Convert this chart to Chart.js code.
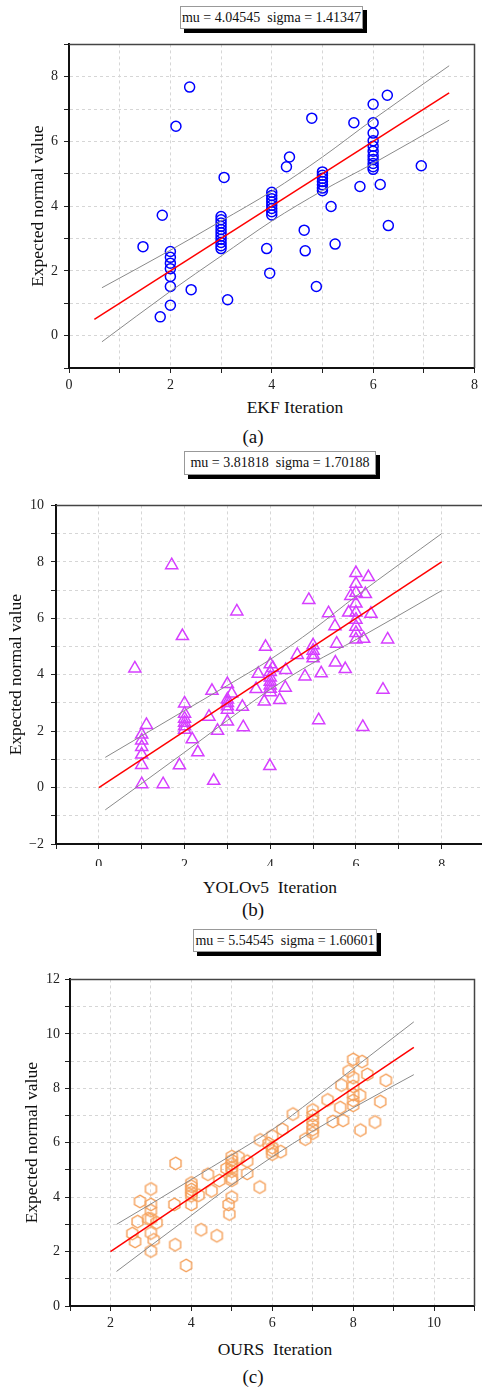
<!DOCTYPE html>
<html>
<head>
<meta charset="utf-8">
<script src="https://cdn.jsdelivr.net/npm/chart.js@4.4.1/dist/chart.umd.min.js"></script>
<style>
  body { margin: 0; width: 482px; height: 1388px; overflow: hidden; background: #fff; position: relative; font-family: "Liberation Serif", serif; color: #111; }
  canvas, .box, .lbl { position: absolute; }
  .box { border: 1px solid #999; background: #fff; box-shadow: 4px 4px 0 #000; font-size: 14px; white-space: pre; text-align: center; box-sizing: border-box; }
  .lbl { transform: translateX(-50%); white-space: pre; line-height: 20px; }
</style>
</head>
<body>
<div class="box" style="left:180px;top:6px;width:183px;height:23px;line-height:21px">mu = 4.04545  sigma = 1.41347</div>
<canvas id="ekf" width="482" height="360" style="left:0;top:30px"></canvas>
<div class="lbl" style="left:295px;top:397px;font-size:17.5px">EKF Iteration</div>
<div class="lbl" style="left:253px;top:427px;font-size:19px">(a)</div>

<div class="box" style="left:184px;top:451px;width:192px;height:24px;line-height:22px">mu = 3.81818  sigma = 1.70188</div>
<canvas id="yolo" width="500" height="376" style="left:0;top:490px"></canvas>
<div class="lbl" style="left:270px;top:877px;font-size:17.5px">YOLOv5  Iteration</div>
<div class="lbl" style="left:253px;top:900px;font-size:19px">(b)</div>

<div class="box" style="left:193px;top:929px;width:184px;height:23px;line-height:21px">mu = 5.54545  sigma = 1.60601</div>
<canvas id="ours" width="482" height="362" style="left:0;top:966px"></canvas>
<div class="lbl" style="left:275px;top:1339px;font-size:17.5px">OURS  Iteration</div>
<div class="lbl" style="left:253px;top:1367px;font-size:19px">(c)</div>

<script>
// (a) EKF
const ekfX = [1.46, 1.84, 1.80, 2, 2, 2, 2, 2, 2, 2, 2.41, 2.11, 2.38,
  3, 3, 3, 3, 3, 3, 3, 3, 3, 3, 3, 3.06, 3.13, 4, 4, 4, 4, 4, 4, 4, 4, 3.90, 3.96,
  5, 5, 5, 5, 5, 5, 5, 4.35, 4.29, 4.79, 4.64, 4.66, 4.88, 5.17, 5.25, 5.62, 5.74,
  6, 6, 6, 6, 6, 6, 6, 6, 6, 6, 6, 6.14, 6.28, 6.30, 6.95];
const ekfY = [2.75, 3.72, 0.58, 2.60, 2.42, 2.24, 2.07, 1.83, 1.52, 0.94, 1.42, 6.47, 7.68,
  3.68, 3.58, 3.48, 3.38, 3.28, 3.18, 3.08, 2.98, 2.88, 2.78, 2.69, 4.89, 1.11,
  4.43, 4.33, 4.23, 4.13, 4.03, 3.93, 3.83, 3.73, 2.69, 1.93,
  5.06, 4.96, 4.86, 4.76, 4.66, 4.56, 4.48, 5.52, 5.22, 6.72, 3.26, 2.62, 1.52, 3.99, 2.83, 6.58, 4.61,
  7.15, 6.58, 6.26, 6.02, 5.85, 5.70, 5.56, 5.44, 5.32, 5.22, 5.14, 4.67, 7.43, 3.40, 5.25];
const ekfFitX = [0.5, 7.5];
const ekfFitY = [0.5, 7.5];
const ekfBandX = [0.65, 2, 3, 4, 5, 6, 7.5];
const ekfUpper = [1.48, 2.64, 3.54, 4.46, 5.52, 6.68, 8.34];
const ekfLower = [-0.19, 1.37, 2.46, 3.54, 4.48, 5.32, 6.66];

// (b) YOLOv5
const yoloX = [1.70, 3.22, 1.95, 0.84, 3.89, 1, 1, 1, 1, 1, 1, 1.11, 1.50,
  2, 2, 2, 2, 2, 2, 1.88, 2.18, 2.31, 2.57, 2.64, 2.68, 2.77,
  3, 3, 3, 3, 3, 3, 3.10, 3.35, 3.37, 3.67, 3.72, 3.86, 3.99,
  4, 4, 4, 4, 4, 4, 4, 4.06, 4.22, 4.35, 4.36, 4.63, 4.81, 4.90,
  5, 5, 5, 5, 5.19, 5.13, 5.36, 5.51, 5.55, 5.52, 5.75, 6.16, 6.63, 6.74,
  6, 6, 6, 6, 6, 6, 6, 6, 6, 5.88, 5.83, 6.29, 6.22, 6.35, 6.18];
const yoloY = [7.88, 6.24, 5.37, 4.22, 4.99, 1.88, 1.67, 1.44, 1.17, 0.80, 0.12, 2.22, 0.12,
  2.98, 2.62, 2.44, 2.30, 2.17, 2.05, 0.79, 1.71, 1.25, 2.51, 3.43, 0.24, 2.01,
  3.67, 3.12, 3.00, 2.88, 2.76, 2.34, 3.33, 2.86, 2.14, 3.49, 4.03, 3.05, 0.76,
  4.37, 4.10, 3.90, 3.75, 3.62, 3.50, 3.38, 4.24, 3.10, 3.54, 4.17, 4.70, 3.94, 6.65,
  5.04, 4.85, 4.70, 4.58, 4.05, 2.39, 6.18, 5.72, 5.10, 4.43, 4.20, 2.15, 3.47, 5.25,
  7.60, 7.22, 6.90, 6.52, 6.20, 5.95, 5.70, 5.48, 5.25, 6.79, 6.20, 7.46, 6.86, 6.16, 5.27];
const yoloFitX = [0, 8];
const yoloFitY = [0, 8];
const yoloBandX = [0.15, 2, 3, 4, 5, 6, 8];
const yoloUpper = [1.07, 2.73, 3.62, 4.54, 5.60, 6.78, 9.0];
const yoloLower = [-0.79, 1.25, 2.38, 3.48, 4.42, 5.24, 6.98];

// (c) OURS
const oursX = [3.61, 2.73, 3, 3, 3, 3, 3, 3,
  2.67, 2.93, 3.14, 2.54, 2.61, 3.07, 3.60, 3.87, 3.58, 4, 4, 4, 4, 4, 4,
  4.18, 4.24, 4.41, 4.50, 4.63, 4.69, 4.87, 4.92, 4.94, 5, 5, 5, 5, 5, 5, 5, 5,
  5.17, 5.38, 5.38, 5.69, 5.70, 5.91, 6, 6, 6, 6, 6.21, 6.25, 6.51, 6.82,
  7, 7, 7, 7, 7, 7, 7.37, 7.50, 7.68, 7.75, 7.71, 7.89,
  8, 8, 8, 8, 8, 8, 8.22, 8.17, 8.35, 8.18, 8.54, 8.67, 8.81];
const oursY = [5.24, 3.84, 4.30, 3.73, 3.50, 3.20, 2.68, 2.02,
  3.10, 3.21, 3.06, 2.66, 2.37, 2.43, 2.25, 1.49, 3.73, 4.52, 4.40, 4.28, 4.16, 4.05, 3.73,
  4.07, 2.80, 4.84, 4.23, 2.58, 4.61, 5.05, 3.73, 3.38, 5.49, 5.35, 5.22, 5.08, 4.95, 4.70, 4.62, 4.00,
  5.47, 5.32, 4.87, 4.37, 6.10, 5.97, 6.25, 5.82, 5.70, 5.58, 5.67, 6.49, 7.05, 6.13,
  7.20, 7.00, 6.82, 6.64, 6.48, 6.35, 7.57, 6.78, 7.29, 6.82, 8.12, 8.63,
  9.06, 8.39, 8.07, 7.77, 7.55, 7.37, 8.98, 7.74, 8.51, 6.46, 6.76, 7.51, 8.29];
const oursFitX = [2, 9.5];
const oursFitY = [2, 9.5];
const oursBandX = [2.15, 3, 4, 5, 6, 7, 8, 9.5];
const oursUpper = [3.0, 3.75, 4.65, 5.55, 6.48, 7.58, 8.72, 10.44];
const oursLower = [1.27, 2.22, 3.33, 4.45, 5.48, 6.42, 7.28, 8.5];

const serif = "Liberation Serif";
const pts = (xs, ys) => xs.map((x, i) => ({ x: x, y: ys[i] }));

function hexagon(color, r) {
  const c = document.createElement("canvas");
  const s = Math.ceil(r * 2 + 4);
  c.width = s;
  c.height = s;
  const g = c.getContext("2d");
  g.strokeStyle = color;
  g.lineWidth = 1.4;
  g.beginPath();
  for (let k = 0; k < 6; k++) {
    const a = Math.PI / 3 * k - Math.PI / 2;
    const px = s / 2 + r * Math.cos(a), py = s / 2 + r * Math.sin(a);
    if (k === 0) g.moveTo(px, py); else g.lineTo(px, py);
  }
  g.closePath();
  g.stroke();
  return c;
}

// top and right edges of the frame
const frame = {
  id: "frame",
  afterDatasetsDraw(chart) {
    const { ctx, chartArea: a } = chart;
    ctx.save();
    ctx.strokeStyle = "#444";
    ctx.lineWidth = 1.5;
    ctx.beginPath();
    ctx.moveTo(a.left, a.top);
    ctx.lineTo(a.right, a.top);
    ctx.lineTo(a.right, a.bottom);
    ctx.stroke();
    ctx.restore();
  }
};

function axis(min, max, pad, fit) {
  return {
    type: "linear",
    min: min,
    max: max,
    afterFit: fit,
    ticks: {
      stepSize: 1,
      autoSkip: false,
      color: "#222",
      padding: pad,
      font: { family: serif, size: 14 },
      callback: v => (v % 2 === 0 ? String(v).replace("-", "\u2212") : "")
    },
    grid: { color: "#d6d6d6", lineWidth: 1, tickLength: 5, tickColor: "#222", tickWidth: 1, tickBorderDash: [] },
    border: { color: "#111", width: 2, dash: [3, 3] }
  };
}

function build(id, o) {
  const x = axis(o.xMin, o.xMax, o.xPad, s => { s.height = 22; });
  const y = axis(o.yMin, o.yMax, o.yPad, s => { s.width = o.left; });
  y.title = {
    display: true,
    text: "Expected normal value",
    color: "#111",
    font: { family: serif, size: 17.5 },
    padding: { top: o.titlePad, bottom: 0 }
  };
  new Chart(document.getElementById(id), {
    type: "scatter",
    data: {
      datasets: [
        {
          type: "line", data: pts(o.fitX, o.fitY), borderColor: "#ff0000", borderWidth: 1.5,
          pointRadius: 0, fill: false, order: 0
        },
        {
          type: "line", data: pts(o.bandX, o.upper), borderColor: "#8a8a8a", borderWidth: 1,
          pointRadius: 0, fill: false, cubicInterpolationMode: "monotone", order: 1
        },
        {
          type: "line", data: pts(o.bandX, o.lower), borderColor: "#8a8a8a", borderWidth: 1,
          pointRadius: 0, fill: false, cubicInterpolationMode: "monotone", order: 1
        },
        {
          data: pts(o.xs, o.ys), pointStyle: o.marker, pointRadius: o.radius,
          borderColor: o.color, borderWidth: 1.5, backgroundColor: "rgba(0,0,0,0)", order: 2
        }
      ]
    },
    options: {
      responsive: false,
      animation: false,
      events: [],
      layout: { padding: { top: o.top, right: o.right, left: 0, bottom: 0 } },
      plugins: { legend: { display: false }, tooltip: { enabled: false } },
      scales: { x: x, y: y }
    },
    plugins: [frame]
  });
}

build("ekf", {
  xs: ekfX, ys: ekfY, fitX: ekfFitX, fitY: ekfFitY, bandX: ekfBandX, upper: ekfUpper, lower: ekfLower,
  xMin: 0, xMax: 8, yMin: -1, yMax: 9, left: 69, top: 7, right: 2, titlePad: 28, xPad: 4, yPad: 6,
  marker: "circle", radius: 5, color: "#0000ff"
});

build("yolo", {
  xs: yoloX, ys: yoloY, fitX: yoloFitX, fitY: yoloFitY, bandX: yoloBandX, upper: yoloUpper, lower: yoloLower,
  xMin: -1, xMax: 9, yMin: -2, yMax: 10, left: 56, top: 11, right: 15.5, titlePad: 6, xPad: 8, yPad: 7,
  marker: "triangle", radius: 7, color: "#d63fff"
});

build("ours", {
  xs: oursX, ys: oursY, fitX: oursFitX, fitY: oursFitY, bandX: oursBandX, upper: oursUpper, lower: oursLower,
  xMin: 1, xMax: 11, yMin: 0, yMax: 12, left: 70, top: 10, right: 2, titlePad: 22, xPad: 4, yPad: 5,
  marker: hexagon("#f5a05a", 6.3), radius: 6, color: "#f5a05a"
});
</script>
</body>
</html>
